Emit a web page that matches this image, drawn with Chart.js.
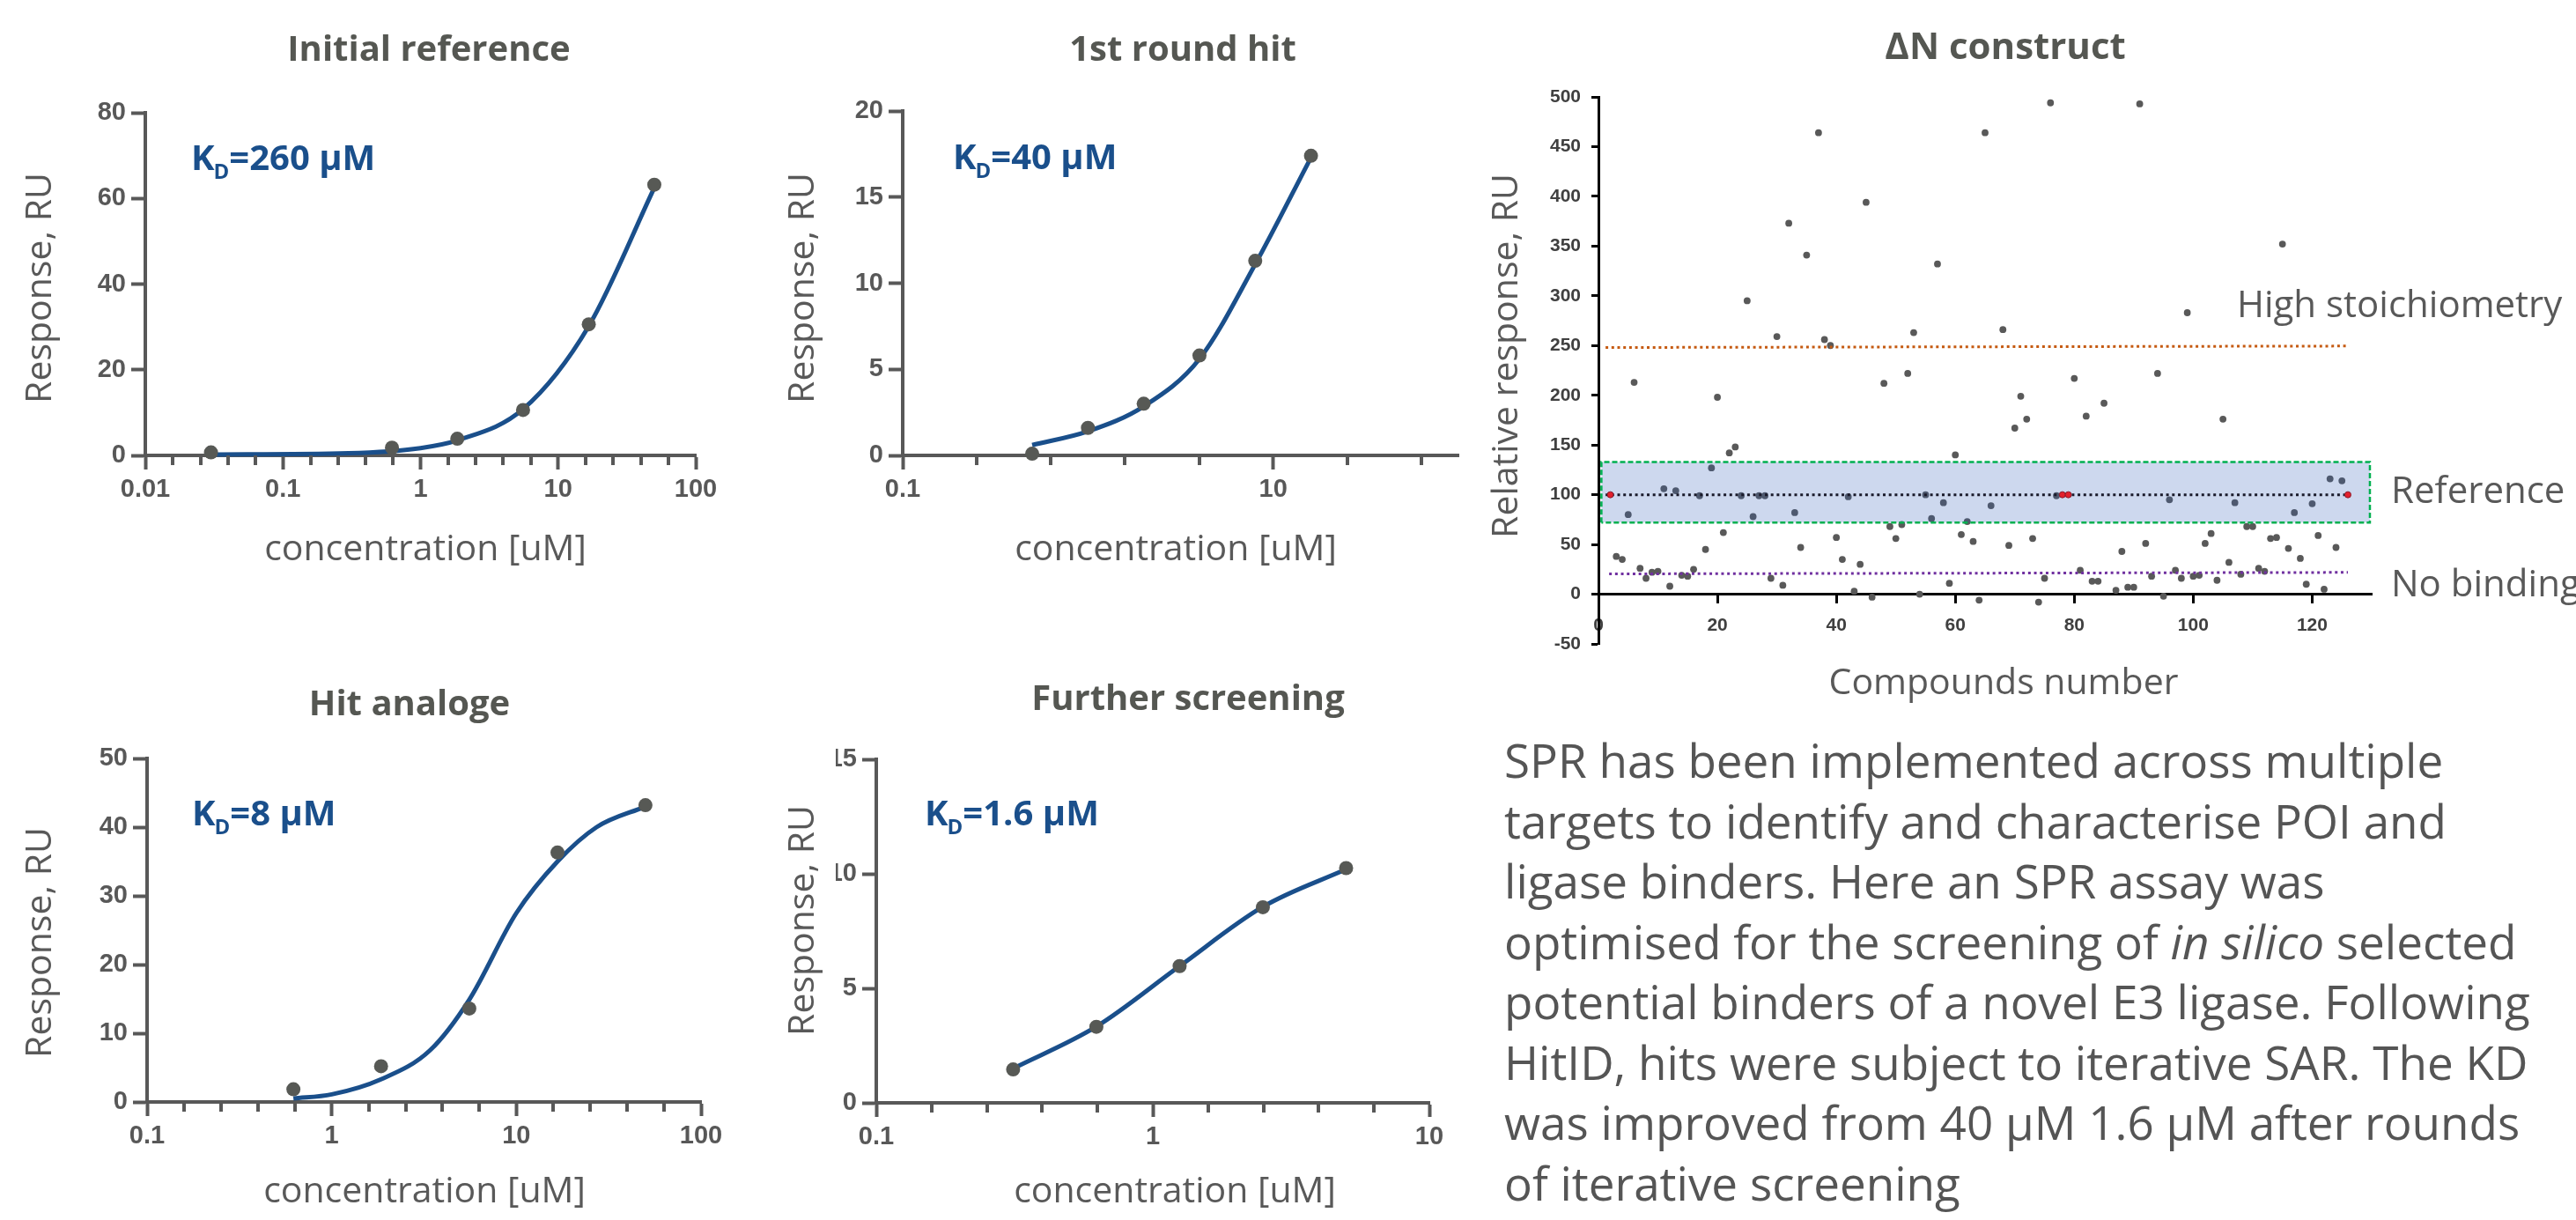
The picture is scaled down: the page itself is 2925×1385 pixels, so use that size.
<!DOCTYPE html>
<html>
<head>
<meta charset="utf-8">
<title>SPR screening</title>
<script src="https://cdn.jsdelivr.net/npm/chart.js@4.4.1/dist/chart.umd.min.js"></script>
<style>
  html, body { margin: 0; padding: 0; background: #fff; }
  body { width: 2925px; height: 1385px; position: relative; overflow: hidden; font-family: "Open Sans", sans-serif; }
  canvas { position: absolute; }
  #blurb { position: absolute; left: 1708px; top: 829px; font-size: 53px; font-weight: 400; line-height: 68.5px; color: #555; white-space: nowrap; }
</style>
</head>
<body>
<canvas id="c1" width="850" height="700" style="left:0;top:0"></canvas>
<canvas id="c2" width="850" height="700" style="left:850px;top:0"></canvas>
<canvas id="c3" width="1275" height="810" style="left:1650px;top:0"></canvas>
<canvas id="c4" width="850" height="645" style="left:0;top:740px"></canvas>
<canvas id="c5" width="850" height="645" style="left:850px;top:740px"></canvas>

<div id="blurb">
SPR has been implemented across multiple<br>
targets to identify and characterise POI and<br>
ligase binders. Here an SPR assay was<br>
optimised for the screening of <i>in silico</i> selected<br>
potential binders of a novel E3 ligase. Following<br>
HitID, hits were subject to iterative SAR. The KD<br>
was improved from 40 μM 1.6 μM after rounds<br>
of iterative screening
</div>

<script>
// --- Initial reference (KD 260 uM)
const initConc = [0.03, 0.62, 1.85, 5.56, 16.7, 50];
const initResp = [0.7, 1.8, 3.9, 10.6, 30.6, 63.2];
const initFitConc = [0.03, 0.3, 1, 1.85, 5.56, 16.7, 50];
const initFitResp = [0.2, 0.5, 1.7, 3.5, 10.8, 30.2, 62.5];

// --- 1st round hit (KD 40 uM)
const hitConc = [0.5, 1, 2, 4, 8, 16];
const hitResp = [0.1, 1.6, 3.0, 5.8, 11.3, 17.4];
const hitFitConc = [0.5, 1, 2, 4, 8, 16];
const hitFitResp = [0.6, 1.4, 2.85, 5.6, 11.1, 17.3];

// --- Hit analoge (KD 8 uM)
const anaConc = [0.62, 1.85, 5.56, 16.7, 50];
const anaResp = [1.85, 5.2, 13.6, 36.3, 43.2];
const anaFitConc = [0.62, 1, 1.85, 3.4, 5.56, 10, 16.7, 27.2, 50];
const anaFitResp = [0.5, 1.1, 3.3, 7.5, 14.9, 27.5, 35.0, 40.0, 43.0];

// --- Further screening (KD 1.6 uM)
const scrConc = [0.3125, 0.625, 1.25, 2.5, 5];
const scrResp = [1.46, 3.32, 5.97, 8.54, 10.25];
const scrFitConc = [0.3125, 0.625, 1.25, 2.5, 5];
const scrFitResp = [1.5, 3.33, 5.97, 8.56, 10.2];

// --- dN construct screen
const compoundNo = [3, 4, 5, 6, 7, 8, 9, 10, 11, 12, 13, 14, 15, 16, 17, 18, 19, 20, 21, 22,
  23, 24, 25, 26, 27, 28, 29, 30, 31, 32, 33, 34, 35, 37, 38, 39, 40, 41, 42, 43,
  44, 45, 46, 48, 49, 50, 51, 52, 53, 54, 55, 56, 57, 58, 59, 60, 61, 62, 63, 64,
  65, 66, 68, 69, 70, 71, 72, 73, 74, 75, 76, 77, 80, 81, 82, 83, 84, 85, 87, 88,
  89, 90, 91, 92, 93, 94, 95, 96, 97, 98, 99, 100, 101, 102, 103, 104, 105, 106, 107, 108,
  109, 110, 111, 112, 113, 114, 115, 116, 117, 118, 119, 120, 121, 122, 123, 124, 125];
const relResponse = [38, 35, 80, 213, 26, 16, 22, 23, 106, 8, 104, 19, 18, 25, 99, 45, 127, 198, 62, 142,
  148, 99, 295, 78, 99, 99, 16, 259, 9, 373, 82, 47, 341, 464, 256, 250, 57, 35, 98, 3,
  30, 394, -3, 212, 68, 56, 70, 222, 263, 0, 100, 76, 332, 92, 11, 140, 60, 73, 53, -6,
  464, 89, 266, 49, 167, 199, 176, 56, -8, 16, 494, 99, 217, 24, 179, 13, 13, 192, 4, 43,
  7, 7, 493, 51, 18, 222, -2, 95, 24, 16, 283, 18, 19, 51, 61, 14, 176, 32, 92, 20,
  68, 68, 26, 23, 56, 57, 352, 46, 82, 36, 10, 91, 59, 5, 116, 47, 114];
const refCompounds = [2, 78, 79, 126];
const refResponse = [100, 100, 100, 100];

const bandX = [0.5, 0.5, 129.7, 129.7, 0.5];
const bandY = [72, 133, 133, 72, 72];
const refLineX = [1.2, 125.5];
const refLineY = [100, 100];
const highLineX = [1.2, 126.2];
const highLineY = [248, 249.5];
const noBindX = [1.8, 126];
const noBindY = [20.4, 21.9];

const BLUE = '#1a4f8b';
const DOT = '#575955';
const AXIS = '#585858';
const TITLE_GREY = '#555752';
const LABEL_GREY = '#595959';
const TICK_FONT = { family: '"Liberation Sans", Arial, sans-serif', size: 29, weight: 'bold' };

function pairs(xs, ys) {
  return xs.map((x, i) => ({ x: x, y: ys[i] }));
}

// minor tick values on a log axis, every `step` decades, skipping whole decades
function logSteps(fromExp, toExp, step) {
  const vals = [];
  for (let k = 0; fromExp + k * step <= toExp + 1e-9; k++) {
    const e = fromExp + k * step;
    if (Math.abs(e - Math.round(e)) > 1e-6) vals.push(Math.pow(10, e));
  }
  return vals;
}

// titles, KD labels, axis titles (canvas coords)
const decor = {
  c1: { title: ['Initial reference', 487, 69], kd: ['260', 217, 193], xTitle: ['concentration [uM]', 483, 636], yTitle: ['Response, RU', 58, 327], minor: logSteps(-2, 2, 0.2) },
  c2: { title: ['1st round hit', 493, 69], kd: ['40', 232, 192], xTitle: ['concentration [uM]', 485, 636], yTitle: ['Response, RU', 74, 327], minor: logSteps(-1, 2, 0.4) },
  c4: { title: ['Hit analoge', 465, 72], kd: ['8', 218, 197], xTitle: ['concentration [uM]', 482, 625], yTitle: ['Response, RU', 58, 330], minor: logSteps(-1, 2, 0.2) },
  c5: { title: ['Further screening', 499, 66], kd: ['1.6', 200, 197], xTitle: ['concentration [uM]', 484, 625], yTitle: ['Response, RU', 74, 305], minor: logSteps(-1, 1, 0.2), clipLeft: 99 },
  c3: { title: ['ΔN construct', 627, 67], titleSize: 42, xTitle: ['Compounds number', 625, 788], yTitle: ['Relative response, RU', 73, 404],
        notes: [['High stoichiometry', 890, 360], ['Reference', 1065, 571], ['No binding', 1065, 677]] }
};

function drawKd(ctx, value, x, y) {
  ctx.fillStyle = BLUE;
  ctx.textAlign = 'left';
  ctx.textBaseline = 'alphabetic';
  ctx.font = 'bold 40px "Open Sans"';
  ctx.fillText('K', x, y);
  let w = ctx.measureText('K').width;
  ctx.font = 'bold 24px "Open Sans"';
  ctx.fillText('D', x + w - 1, y + 10);
  w += ctx.measureText('D').width - 1;
  ctx.font = 'bold 40px "Open Sans"';
  ctx.fillText('=' + value + ' μM', x + w, y);
}

const panelDecor = {
  id: 'panelDecor',
  beforeDraw(chart) {
    const p = decor[chart.canvas.id];
    if (p.clipLeft) {
      const ctx = chart.ctx;
      ctx.save();
      ctx.beginPath();
      ctx.rect(p.clipLeft, 0, chart.width, chart.height);
      ctx.clip();
    }
  },
  afterDraw(chart) {
    const p = decor[chart.canvas.id];
    const ctx = chart.ctx;
    if (p.clipLeft) ctx.restore();
    const area = chart.chartArea;

    if (p.minor) {
      const xs = chart.scales.x;
      ctx.save();
      ctx.strokeStyle = AXIS;
      ctx.lineWidth = 4;
      p.minor.forEach(v => {
        const px = Math.round(xs.getPixelForValue(v));
        ctx.beginPath();
        ctx.moveTo(px, area.bottom);
        ctx.lineTo(px, area.bottom + 11);
        ctx.stroke();
      });
      ctx.restore();
    }

    ctx.save();
    ctx.textBaseline = 'alphabetic';
    ctx.fillStyle = TITLE_GREY;
    ctx.textAlign = 'center';
    ctx.font = 'bold ' + (p.titleSize || 40) + 'px "Open Sans"';
    ctx.fillText(p.title[0], p.title[1], p.title[2]);

    if (p.kd) drawKd(ctx, p.kd[0], p.kd[1], p.kd[2]);

    ctx.fillStyle = LABEL_GREY;
    ctx.font = '41px "Open Sans"';
    ctx.textAlign = 'center';
    ctx.fillText(p.xTitle[0], p.xTitle[1], p.xTitle[2]);

    ctx.save();
    ctx.translate(p.yTitle[1], p.yTitle[2]);
    ctx.rotate(-Math.PI / 2);
    ctx.fillText(p.yTitle[0], 0, 0);
    ctx.restore();

    if (p.notes) {
      ctx.textAlign = 'left';
      ctx.font = '42px "Open Sans"';
      p.notes.forEach(n => ctx.fillText(n[0], n[1], n[2]));
    }
    ctx.restore();
  }
};

function doseChart(id, conc, resp, fitConc, fitResp, opt) {
  return new Chart(document.getElementById(id), {
    type: 'scatter',
    data: {
      datasets: [
        { data: pairs(conc, resp), pointRadius: 8, pointBackgroundColor: DOT, pointBorderWidth: 0, order: 0, clip: false },
        { data: pairs(fitConc, fitResp), showLine: true, pointRadius: 0, borderColor: BLUE, borderWidth: 5,
          cubicInterpolationMode: 'monotone', fill: false, order: 1, clip: false }
      ]
    },
    options: {
      responsive: false,
      animation: false,
      events: [],
      layout: { padding: opt.pad },
      plugins: { legend: { display: false }, tooltip: { enabled: false } },
      scales: {
        x: {
          type: 'logarithmic',
          min: opt.xMin,
          max: opt.xMax,
          afterBuildTicks: s => { s.ticks = opt.major.map(v => ({ value: v })); },
          afterFit: s => { s.height = 60; },
          ticks: { callback: (v, i) => opt.majorLabels[i], font: TICK_FONT, color: AXIS, padding: 6, maxRotation: 0, autoSkip: false },
          grid: { drawOnChartArea: false, drawTicks: true, tickLength: 16, tickWidth: 4, tickColor: AXIS },
          border: { color: AXIS, width: 4 }
        },
        y: {
          min: 0,
          max: opt.yMax,
          afterFit: s => { s.width = 100; },
          ticks: { stepSize: opt.yStep, font: TICK_FONT, color: AXIS, padding: 6 },
          grid: { drawOnChartArea: false, drawTicks: true, tickLength: 16, tickWidth: 4, tickColor: AXIS },
          border: { color: AXIS, width: 4 }
        }
      }
    },
    plugins: [panelDecor]
  });
}

function screenChart() {
  const tickFont = { family: '"Liberation Sans", Arial, sans-serif', size: 21, weight: 'bold' };
  return new Chart(document.getElementById('c3'), {
    type: 'scatter',
    data: {
      datasets: [
        { data: pairs(compoundNo, relResponse), pointRadius: 3.9, pointBackgroundColor: '#595959', pointBorderWidth: 0, order: 5 },
        { data: pairs(bandX, bandY), showLine: true, fill: 'shape', backgroundColor: 'rgba(47,92,184,0.24)',
          borderColor: '#00b050', borderWidth: 2.5, borderDash: [6, 3], pointRadius: 0, tension: 0, order: 4 },
        { data: pairs(highLineX, highLineY), showLine: true, borderColor: '#c55a11', borderWidth: 3, borderDash: [3, 3.7], pointRadius: 0, order: 3 },
        { data: pairs(noBindX, noBindY), showLine: true, borderColor: '#7030a0', borderWidth: 3, borderDash: [3, 3.7], pointRadius: 0, order: 3 },
        { data: pairs(refLineX, refLineY), showLine: true, borderColor: '#1a1a2a', borderWidth: 3, borderDash: [3, 3.7], pointRadius: 0, order: 2 },
        { data: pairs(refCompounds, refResponse), pointRadius: 3.5, pointBackgroundColor: '#e3202c', pointBorderColor: '#8a1a2a', pointBorderWidth: 1, order: 1 }
      ]
    },
    options: {
      responsive: false,
      animation: false,
      events: [],
      layout: { padding: { left: 65, right: 232, top: 110, bottom: 79 } },
      plugins: { legend: { display: false }, tooltip: { enabled: false } },
      scales: {
        x: {
          type: 'linear',
          min: 0,
          max: 130,
          position: { y: 0 },
          afterBuildTicks: s => { s.ticks = [0, 20, 40, 60, 80, 100, 120].map(v => ({ value: v })); },
          afterFit: s => { s.height = 0; },
          ticks: { font: tickFont, color: '#404040', padding: 14, maxRotation: 0, autoSkip: false },
          grid: { drawOnChartArea: false, drawTicks: true, tickLength: 9, tickWidth: 3, tickColor: '#000' },
          border: { color: '#000', width: 3 }
        },
        y: {
          min: -50,
          max: 500,
          afterFit: s => { s.width = 100; },
          ticks: { stepSize: 50, font: tickFont, color: '#404040', padding: 12 },
          grid: { drawOnChartArea: false, drawTicks: true, tickLength: 8, tickWidth: 3, tickColor: '#000' },
          border: { color: '#000', width: 3 }
        }
      }
    },
    plugins: [panelDecor]
  });
}

function drawAll() {
  doseChart('c1', initConc, initResp, initFitConc, initFitResp, {
    pad: { left: 65, right: 60, top: 128, bottom: 123 }, xMin: 0.01, xMax: 100,
    major: [0.01, 0.1, 1, 10, 100], majorLabels: ['0.01', '0.1', '1', '10', '100'], yMax: 80, yStep: 20
  });
  doseChart('c2', hitConc, hitResp, hitFitConc, hitFitResp, {
    pad: { left: 75, right: 44, top: 126, bottom: 123 }, xMin: 0.1, xMax: 100,
    major: [0.1, 10], majorLabels: ['0.1', '10'], yMax: 20, yStep: 5
  });
  doseChart('c4', anaConc, anaResp, anaFitConc, anaFitResp, {
    pad: { left: 67, right: 54, top: 121, bottom: 74 }, xMin: 0.1, xMax: 100,
    major: [0.1, 1, 10, 100], majorLabels: ['0.1', '1', '10', '100'], yMax: 50, yStep: 10
  });
  doseChart('c5', scrConc, scrResp, scrFitConc, scrFitResp, {
    pad: { left: 45, right: 77, top: 122, bottom: 73 }, xMin: 0.1, xMax: 10,
    major: [0.1, 1, 10], majorLabels: ['0.1', '1', '10'], yMax: 15, yStep: 5
  });
  screenChart();
}

Promise.all([
  document.fonts.load('bold 40px "Open Sans"'),
  document.fonts.load('41px "Open Sans"'),
  document.fonts.load('bold 26px "Liberation Sans"')
]).then(drawAll, drawAll);
</script>
</body>
</html>
